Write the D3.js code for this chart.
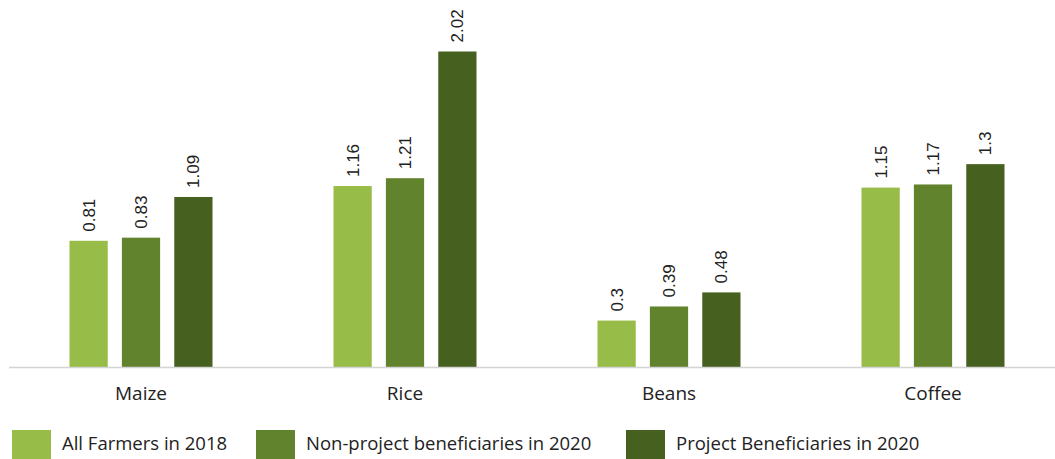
<!DOCTYPE html>
<html><head><meta charset="utf-8">
<script src="https://cdn.jsdelivr.net/npm/d3@7"></script>
<style>body{margin:0;background:#fff}svg{display:block}</style>
</head><body>
<svg id="c" width="1055" height="459"></svg>
<script>
const categories = ["Maize", "Rice", "Beans", "Coffee"];
const seriesNames = ["All Farmers in 2018", "Non-project beneficiaries in 2020", "Project Beneficiaries in 2020"];
const allFarmers2018 = [0.81, 1.16, 0.3, 1.15];
const nonProject2020 = [0.83, 1.21, 0.39, 1.17];
const project2020 = [1.09, 2.02, 0.48, 1.3];
const colors = ["#97bc47", "#62832e", "#46601f"];

const series = [allFarmers2018, nonProject2020, project2020];
const svg = d3.select("#c");
const baseY = 367.5;
const x0 = d3.scaleBand().domain(categories).range([9, 1065]).paddingInner(0).paddingOuter(0);
const x1 = d3.scaleBand().domain(d3.range(3)).range([0, 143]).paddingInner(0.27).paddingOuter(0);
const y = d3.scaleLinear().domain([0, 2.02]).range([baseY, 51.5]);

const groupOffset = (x0.bandwidth() - 143) / 2;

const g = svg.selectAll("g.cat").data(categories).join("g")
  .attr("class", "cat")
  .attr("transform", d => `translate(${x0(d) + groupOffset},0)`);

g.each(function(cat, ci) {
  const gg = d3.select(this);
  series.forEach((s, si) => {
    const v = s[ci];
    gg.append("rect")
      .attr("x", x1(si))
      .attr("y", y(v))
      .attr("width", x1.bandwidth())
      .attr("height", baseY - y(v))
      .attr("fill", colors[si]);
    const cx = x1(si) + x1.bandwidth() / 2;
    gg.append("text")
      .attr("transform", `translate(${cx + 6},${y(v) - 9}) rotate(-90)`)
      .attr("font-family", "Liberation Sans, Arial, sans-serif")
      .attr("font-size", 17)
      .attr("fill", "#222")
      .text(v);
  });
});

// axis
const axis = svg.append("g").attr("transform", `translate(0,${baseY})`)
  .call(d3.axisBottom(x0).tickSize(0).tickPadding(19));
axis.select(".domain").attr("stroke", "#d4d4d4").attr("stroke-width", 1.5).attr("d", "M9,0H1055");
axis.selectAll("text").attr("font-family", "Open Sans, sans-serif").attr("font-size", 19).attr("fill", "#222");

// legend
const legX = [12, 256, 626];
const leg = svg.selectAll("g.leg").data(seriesNames).join("g").attr("class", "leg")
  .attr("transform", (d, i) => `translate(${legX[i]},430)`);
leg.append("rect").attr("width", 39).attr("height", 29).attr("fill", (d, i) => colors[i]);
leg.append("text").attr("x", 50).attr("y", 20)
  .attr("font-family", "Open Sans, sans-serif").attr("font-size", 18.5).attr("fill", "#222")
  .text(d => d);
</script>
</body></html>
